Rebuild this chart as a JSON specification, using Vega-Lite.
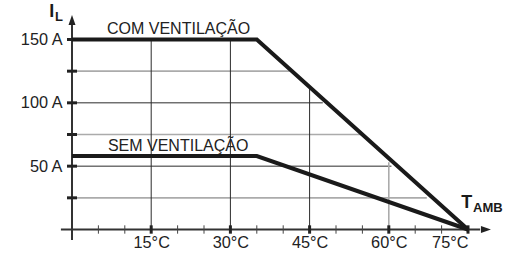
{
  "$schema": "https://vega.github.io/schema/vega-lite/v6.json",
  "width": 396,
  "height": 190,
  "autosize": "none",
  "padding": {"left": 72, "top": 39.5, "right": 40, "bottom": 26.5},
  "background": "white",
  "config": {
    "view": {"stroke": null},
    "axis": {"domain": false, "ticks": false, "grid": false, "title": null, "labelFont": "Liberation Sans", "labelFontSize": 16.3, "labelColor": "#222222"}
  },
  "datasets": {
    "curves": [
      {"serie": "COM", "t": 0, "i": 150}, {"serie": "COM", "t": 35, "i": 150}, {"serie": "COM", "t": 75, "i": 0},
      {"serie": "SEM", "t": 0, "i": 58}, {"serie": "SEM", "t": 35, "i": 58}, {"serie": "SEM", "t": 75, "i": 0}
    ],
    "hgrid": [
      {"i": 125, "end": 41.2, "kind": "minor"}, {"i": 100, "end": 47.5, "kind": "major"},
      {"i": 75, "end": 54.8, "kind": "minor"}, {"i": 50, "end": 60.5, "kind": "major"},
      {"i": 25, "end": 67.2, "kind": "minor"}
    ],
    "vgrid": [
      {"t": 15, "top": 150, "kind": "major"}, {"t": 30, "top": 150, "kind": "major"},
      {"t": 45, "top": 112.5, "kind": "major"}, {"t": 60, "top": 53, "kind": "minor"}
    ],
    "xticks": [
      {"t": 5, "kind": "minor"}, {"t": 10, "kind": "minor"}, {"t": 15, "kind": "major"}, {"t": 20, "kind": "minor"},
      {"t": 25, "kind": "minor"}, {"t": 30, "kind": "major"}, {"t": 35, "kind": "minor"}, {"t": 40, "kind": "minor"},
      {"t": 45, "kind": "major"}, {"t": 50, "kind": "minor"}, {"t": 55, "kind": "minor"}, {"t": 60, "kind": "major"},
      {"t": 65, "kind": "minor"}, {"t": 70, "kind": "minor"}, {"t": 75, "kind": "major"}
    ],
    "yticks": [{"i": 25}, {"i": 50}, {"i": 75}, {"i": 100}, {"i": 125}, {"i": 150}],
    "curveLabels": [
      {"text": "COM VENTILAÇÃO", "t": 6.63, "i": 154.3},
      {"text": "SEM VENTILAÇÃO", "t": 6.8, "i": 62.2}
    ],
    "axisTitles": [
      {"text": "I", "t": -4.3, "i": 167.7, "role": "main"},
      {"text": "L", "t": -3.2, "i": 164.6, "role": "sub"},
      {"text": "T", "t": 73.7, "i": 17, "role": "main"},
      {"text": "AMB", "t": 75.95, "i": 13.8, "role": "sub"}
    ]
  },
  "layer": [
    {
      "data": {"name": "hgrid"},
      "mark": {"type": "rule"},
      "encoding": {
        "x": {"field": "end", "type": "quantitative"},
        "x2": {"datum": 0},
        "y": {"field": "i", "type": "quantitative"},
        "color": {"condition": {"test": "datum.kind === 'major'", "value": "#2b2b2b"}, "value": "#ababab"},
        "strokeWidth": {"condition": {"test": "datum.kind === 'major'", "value": 1}, "value": 1.6}
      }
    },
    {
      "data": {"name": "vgrid"},
      "mark": {"type": "rule"},
      "encoding": {
        "x": {"field": "t", "type": "quantitative"},
        "y": {"field": "top", "type": "quantitative"},
        "y2": {"datum": 0},
        "color": {"condition": {"test": "datum.kind === 'major'", "value": "#2b2b2b"}, "value": "#ababab"},
        "strokeWidth": {"condition": {"test": "datum.kind === 'major'", "value": 1}, "value": 1.6}
      }
    },
    {
      "data": {"values": [{}]},
      "mark": {"type": "rule", "color": "#333333", "strokeWidth": 2},
      "encoding": {
        "x": {"datum": -2.1, "type": "quantitative"},
        "x2": {"datum": 77.3},
        "y": {"datum": 0, "type": "quantitative"}
      }
    },
    {
      "data": {"values": [{}]},
      "mark": {"type": "rule", "color": "#333333", "strokeWidth": 2},
      "encoding": {
        "x": {"datum": 0, "type": "quantitative"},
        "y": {"datum": -8.3, "type": "quantitative"},
        "y2": {"datum": 161.4}
      }
    },
    {
      "data": {"name": "xticks"},
      "mark": {"type": "rule"},
      "encoding": {
        "x": {"field": "t", "type": "quantitative"},
        "y": {"datum": -3.3, "type": "quantitative"},
        "y2": {"datum": 3.3},
        "color": {"condition": {"test": "datum.kind === 'major'", "value": "#222222"}, "value": "#444444"},
        "strokeWidth": {"condition": {"test": "datum.kind === 'major'", "value": 3}, "value": 1}
      }
    },
    {
      "data": {"name": "yticks"},
      "mark": {"type": "rule", "color": "#222222", "strokeWidth": 3},
      "encoding": {
        "x": {"datum": -0.95, "type": "quantitative"},
        "x2": {"datum": 0.95},
        "y": {"field": "i", "type": "quantitative"}
      }
    },
    {
      "data": {"values": [{}]},
      "mark": {"type": "point", "shape": "M0,-1L0.7,1L-0.7,1Z", "filled": true, "color": "#222222", "size": 100, "opacity": 1},
      "encoding": {
        "x": {"datum": 0, "type": "quantitative"},
        "y": {"datum": 165.3, "type": "quantitative"}
      }
    },
    {
      "data": {"values": [{}]},
      "mark": {"type": "point", "shape": "M0,-1L0.7,1L-0.7,1Z", "filled": true, "color": "#222222", "size": 100, "opacity": 1, "angle": 90},
      "encoding": {
        "x": {"datum": 78.4, "type": "quantitative"},
        "y": {"datum": 0, "type": "quantitative"}
      }
    },
    {
      "data": {"name": "curves"},
      "mark": {"type": "line", "color": "#1a1a1a", "strokeWidth": 4, "strokeJoin": "miter"},
      "encoding": {
        "x": {"field": "t", "type": "quantitative", "scale": {"domain": [0, 75], "nice": false, "zero": false},
              "axis": {"values": [15, 30, 45, 60, 75], "labelExpr": "datum.value + '°C'", "labelPadding": 5}},
        "y": {"field": "i", "type": "quantitative", "scale": {"domain": [0, 150], "nice": false, "zero": false},
              "axis": {"values": [50, 100, 150], "labelExpr": "datum.value + ' A'", "labelPadding": 10}},
        "detail": {"field": "serie"}
      }
    },
    {
      "data": {"name": "curveLabels"},
      "mark": {"type": "text", "align": "left", "baseline": "alphabetic", "font": "Liberation Sans", "fontSize": 16, "color": "#222222"},
      "encoding": {
        "x": {"field": "t", "type": "quantitative"},
        "y": {"field": "i", "type": "quantitative"},
        "text": {"field": "text"}
      }
    },
    {
      "data": {"name": "axisTitles"},
      "mark": {"type": "text", "align": "left", "baseline": "alphabetic", "font": "Liberation Sans", "fontWeight": "bold", "color": "#1a1a1a"},
      "encoding": {
        "x": {"field": "t", "type": "quantitative"},
        "y": {"field": "i", "type": "quantitative"},
        "text": {"field": "text"},
        "size": {"condition": {"test": "datum.role === 'main'", "value": 18}, "value": 13}
      }
    }
  ]
}
